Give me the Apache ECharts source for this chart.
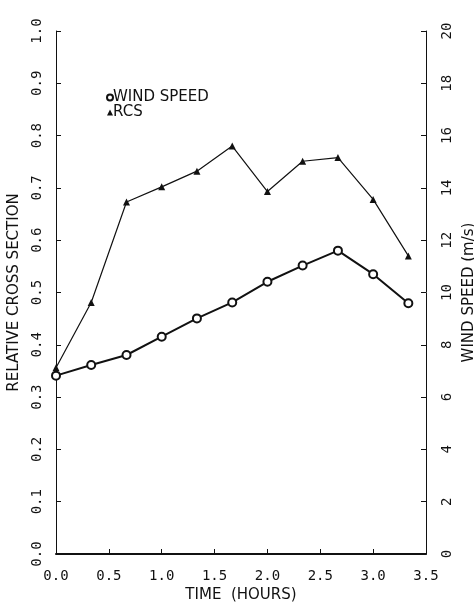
<!DOCTYPE html>
<html>
<head>
  <meta charset="UTF-8">
  <title>RCS and wind speed</title>
  <style>
    html, body { margin: 0; padding: 0; background: #fff; }
    #chart { width: 474px; height: 607px; }
  </style>
</head>
<body>
  <div id="chart"></div>
  <script src="https://cdn.jsdelivr.net/npm/echarts@6/dist/echarts.min.js"></script>
  <script>
    // time in hours
    const hours = [0, 0.333, 0.667, 1.0, 1.333, 1.667, 2.0, 2.333, 2.667, 3.0, 3.333];
    // relative cross section (left axis)
    const rcs = [0.356, 0.481, 0.673, 0.702, 0.732, 0.780, 0.693, 0.751, 0.758, 0.678, 0.570];
    // wind speed in m/s (right axis)
    const windSpeed = [6.82, 7.23, 7.61, 8.31, 9.01, 9.62, 10.41, 11.03, 11.6, 10.70, 9.59];

    const ink = '#111';
    const mono = 'DejaVu Sans Mono';
    const sans = 'DejaVu Sans';

    const chart = echarts.init(document.getElementById('chart'));
    const option = {
      backgroundColor: '#fff',
      animation: false,
      grid: { left: 56, right: 48, top: 31, bottom: 53, containLabel: false, outerBoundsMode: 'none' },
      legend: {
        orient: 'vertical',
        left: 101,
        top: 85,
        itemWidth: 6,
        itemHeight: 6,
        itemGap: 0,
        textStyle: { color: ink, fontFamily: sans, fontSize: 15, lineHeight: 13, padding: [0, 0, 0, -5] },
        data: [
          { name: 'WIND SPEED', icon: 'emptyCircle' },
          { name: 'RCS', icon: 'triangle' }
        ]
      },
      xAxis: {
        type: 'value',
        min: 0,
        max: 3.5,
        interval: 0.5,
        name: 'TIME  (HOURS)',
        nameLocation: 'middle',
        nameGap: 33,
        nameTextStyle: { color: ink, fontFamily: sans, fontSize: 15 },
        axisLine: { lineStyle: { color: ink, width: 2 } },
        axisTick: { inside: true, length: 5, lineStyle: { color: ink } },
        axisLabel: {
          color: ink, fontFamily: mono, fontSize: 14, margin: 15,
          formatter: v => v.toFixed(1)
        },
        splitLine: { show: false }
      },
      yAxis: [{
        type: 'value',
        min: 0,
        max: 1,
        interval: 0.1,
        name: 'RELATIVE CROSS SECTION',
        nameLocation: 'middle',
        nameRotate: 90,
        nameGap: 29,
        nameTextStyle: { color: ink, fontFamily: sans, fontSize: 15 },
        axisLine: { show: true, lineStyle: { color: ink, width: 1 } },
        axisTick: { inside: true, length: 5, lineStyle: { color: ink } },
        axisLabel: {
          color: ink, fontFamily: mono, fontSize: 14, rotate: 90, margin: 12,
          formatter: v => v.toFixed(1)
        },
        splitLine: { show: false }
      }, {
        type: 'value',
        position: 'right',
        min: 0,
        max: 20,
        interval: 2,
        name: 'WIND SPEED (m/s)',
        nameLocation: 'middle',
        nameRotate: 90,
        nameGap: 35,
        nameTextStyle: { color: ink, fontFamily: sans, fontSize: 15 },
        axisLine: { show: true, lineStyle: { color: ink, width: 1 } },
        axisTick: { inside: true, length: 5, lineStyle: { color: ink } },
        axisLabel: { color: ink, fontFamily: mono, fontSize: 14, rotate: 90, margin: 14 },
        splitLine: { show: false }
      }],
      series: [{
        name: 'WIND SPEED',
        type: 'line',
        yAxisIndex: 1,
        data: hours.map((h, i) => [h, windSpeed[i]]),
        symbol: 'emptyCircle',
        symbolSize: 8,
        lineStyle: { color: ink, width: 2 },
        itemStyle: { color: ink, borderWidth: 2 }
      }, {
        name: 'RCS',
        type: 'line',
        yAxisIndex: 0,
        data: hours.map((h, i) => [h, rcs[i]]),
        symbol: 'triangle',
        symbolSize: 7,
        lineStyle: { color: ink, width: 1.2 },
        itemStyle: { color: ink }
      }]
    };
    chart.setOption(option);
  </script>
</body>
</html>
